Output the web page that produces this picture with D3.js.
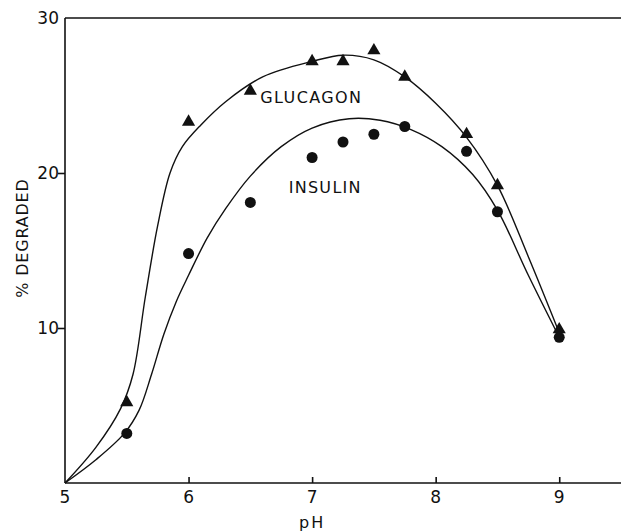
<!DOCTYPE html>
<meta charset="utf-8">
<style>
body { margin: 0; background: #fff; }
text { font-family: "DejaVu Sans", sans-serif; fill: #111; }
.curve { fill: none; stroke: #111; stroke-width: 1.4px; }
.axis path, .axis line { stroke: #111; stroke-width: 1.6px; }
</style>
<body>
<svg id="chart" width="621" height="532"></svg>
<script src="https://d3js.org/d3.v7.min.js"></script>
<script>

// measured points
var phValues   = [5.5, 6, 6.5, 7, 7.25, 7.5, 7.75, 8.25, 8.5, 9];
var glucagon   = [5.2, 23.3, 25.3, 27.2, 27.2, 27.9, 26.2, 22.5, 19.2, 9.9];
var insulin    = [3.2, 14.8, 18.1, 21.0, 22.0, 22.5, 23.0, 21.4, 17.5, 9.4];

// hand-drawn fitted curves
var glucCurveX = [5, 5.25, 5.45, 5.55, 5.65, 5.75, 5.85, 5.95, 6.1, 6.3, 6.6, 7.0, 7.25, 7.5, 7.75, 8.0, 8.25, 8.5, 8.75, 9.0];
var glucCurveY = [0, 2.3, 4.8, 7.0, 12.0, 16.6, 20.0, 21.7, 23.1, 24.6, 26.2, 27.2, 27.6, 27.3, 26.2, 24.5, 22.3, 19.2, 14.6, 9.7];
var insCurveX  = [5, 5.25, 5.48, 5.6, 5.7, 5.8, 5.9, 6.0, 6.15, 6.3, 6.5, 6.75, 7.0, 7.3, 7.55, 7.8, 8.05, 8.3, 8.5, 8.75, 9.0];
var insCurveY  = [0, 1.5, 3.2, 4.7, 7.0, 9.6, 11.7, 13.4, 15.8, 17.7, 19.8, 21.7, 22.9, 23.5, 23.4, 22.8, 21.7, 19.9, 17.6, 13.4, 9.4];

var xTicks = [5, 6, 7, 8, 9];
var yTicks = [10, 20, 30];

var svg = d3.select("#chart");

var x = d3.scaleLinear().domain([5, 9.5]).range([65, 621]);
var y = d3.scaleLinear().domain([0, 30]).range([483, 18]);

// axes
svg.append("g")
    .attr("class", "axis")
    .attr("transform", "translate(0," + y(0) + ")")
    .call(d3.axisTop(x).tickValues(xTicks.slice(1)).tickSize(6).tickFormat("").tickSizeOuter(0))
    .select(".domain").attr("d", "M" + x(5) + ",0H621");

svg.append("g")
    .attr("class", "axis")
    .attr("transform", "translate(" + x(5) + ",0)")
    .call(d3.axisLeft(y).tickValues(yTicks.slice(0, 2)).tickSize(7).tickFormat("").tickSizeOuter(0))
    .select(".domain").attr("d", "M0," + y(0) + "V" + y(30));

// top frame line
svg.append("line")
    .attr("x1", x(5)).attr("x2", 621)
    .attr("y1", y(30)).attr("y2", y(30))
    .style("stroke", "#111").style("stroke-width", 1.6);

// tick labels
svg.selectAll(".xlab")
  .data(xTicks)
  .enter().append("text")
    .attr("x", function(d) { return x(d); })
    .attr("y", y(0) + 20)
    .attr("text-anchor", "middle")
    .style("font-size", "17px")
    .text(function(d) { return d; });

svg.selectAll(".ylab")
  .data(yTicks)
  .enter().append("text")
    .attr("x", x(5) - 6)
    .attr("y", function(d) { return y(d) + 6; })
    .attr("text-anchor", "end")
    .style("font-size", "17px")
    .text(function(d) { return d; });

// axis titles
svg.append("text")
    .attr("x", x(7))
    .attr("y", 528)
    .attr("text-anchor", "middle")
    .style("font-size", "16px")
    .style("letter-spacing", "2px")
    .text("pH");

svg.append("text")
    .attr("transform", "translate(28,238) rotate(-90)")
    .attr("text-anchor", "middle")
    .style("font-size", "16px")
    .style("letter-spacing", "0.8px")
    .text("% DEGRADED");

// curves
var line = d3.line()
    .x(function(d) { return x(d[0]); })
    .y(function(d) { return y(d[1]); })
    .curve(d3.curveCatmullRom.alpha(0.5));

svg.append("path")
    .datum(d3.zip(glucCurveX, glucCurveY))
    .attr("class", "curve")
    .attr("d", line);

svg.append("path")
    .datum(d3.zip(insCurveX, insCurveY))
    .attr("class", "curve")
    .attr("d", line);

// markers
var tri = d3.symbol().type(d3.symbolTriangle).size(75);

svg.selectAll(".tri")
  .data(d3.zip(phValues, glucagon))
  .enter().append("path")
    .attr("transform", function(d) { return "translate(" + x(d[0]) + "," + y(d[1]) + ")"; })
    .attr("d", tri)
    .style("fill", "#111");

svg.selectAll(".dot")
  .data(d3.zip(phValues, insulin))
  .enter().append("circle")
    .attr("cx", function(d) { return x(d[0]); })
    .attr("cy", function(d) { return y(d[1]); })
    .attr("r", 5.5)
    .style("fill", "#111");

// series labels
svg.append("text")
    .attr("x", x(6.58))
    .attr("y", y(25.3) + 12)
    .style("font-size", "16px")
    .style("letter-spacing", "1.4px")
    .text("GLUCAGON");

svg.append("text")
    .attr("x", x(6.81))
    .attr("y", y(19.5) + 12)
    .style("font-size", "16px")
    .style("letter-spacing", "1.3px")
    .text("INSULIN");

</script>
</body>
